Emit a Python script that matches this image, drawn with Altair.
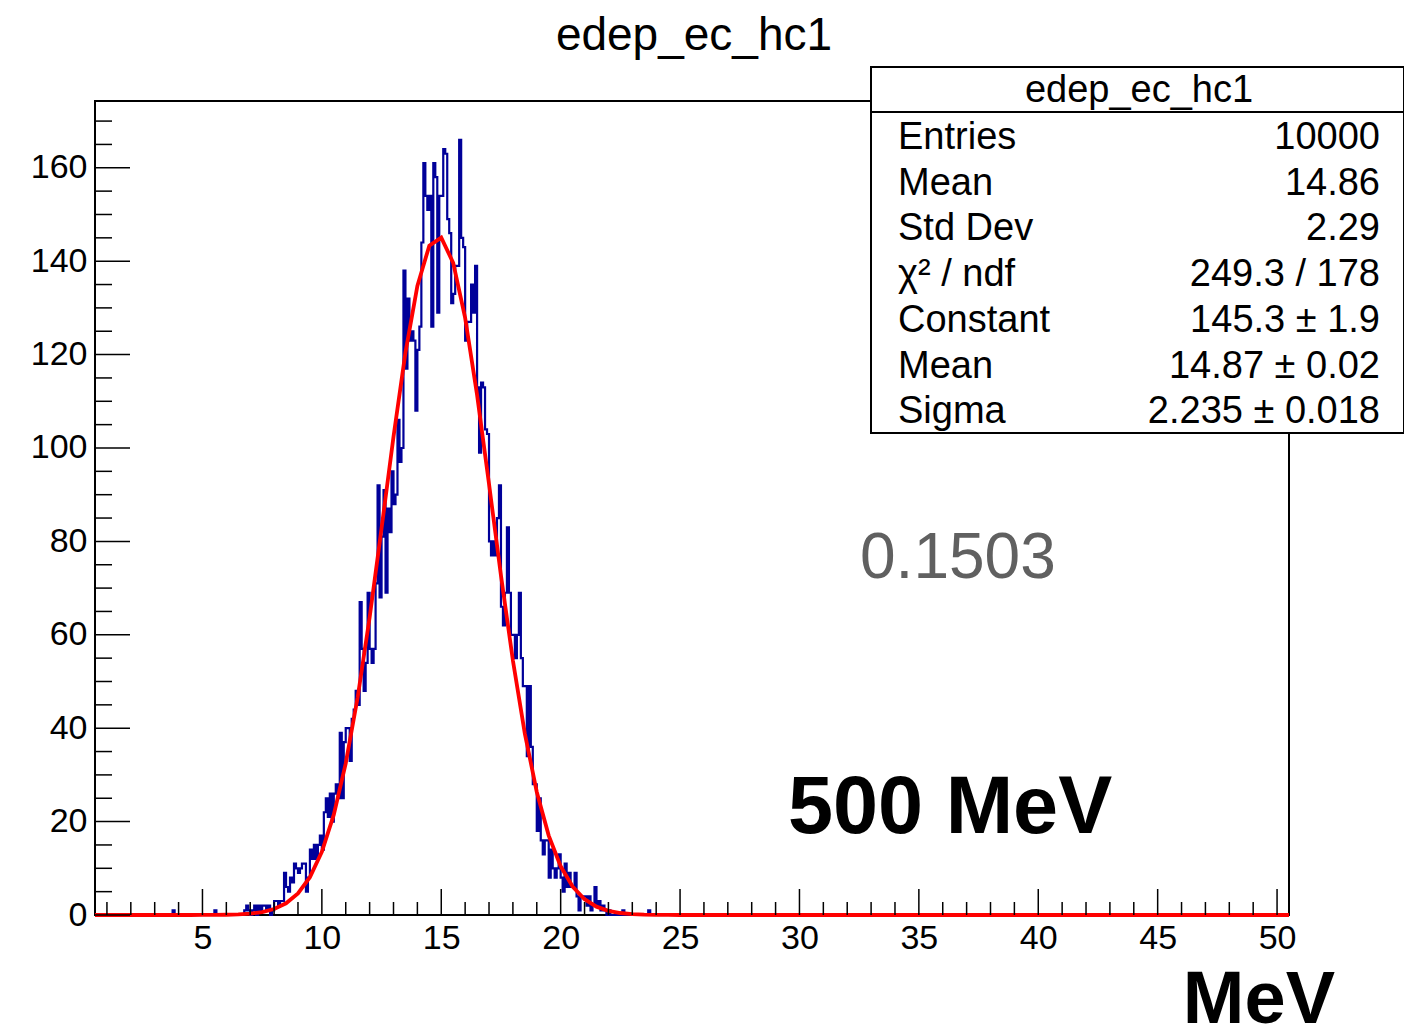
import altair as alt
import pandas as pd
import numpy as np

# ---------------- data ----------------
X_MIN, X_MAX, N_BINS = 0.5, 50.5, 600
Y_MAX = 174.3

# isolated entries far in the left tail (bin index -> count)
isolated_bins = [39, 60]
isolated_counts = [1, 1]

# contiguous counts starting at bin index FIRST_BIN
FIRST_BIN = 75
counts = [
    1, 2, 1, 0, 1,   2, 0, 2, 1, 2,   2, 1, 2, 0, 1,   3, 3, 2, 3, 3,
    9, 6, 5, 8, 7,   11, 10, 9, 10, 11,   11, 5, 8, 14, 12,   15, 12, 15, 17, 14,
    22, 25, 21, 26, 20,   26, 28, 25, 39, 25,   37, 40, 40, 33, 42,
    44, 48, 45, 67, 57,   48, 54, 69, 57, 54,   57, 71, 92, 68, 81,
    91, 69, 87, 82, 95,   88, 90, 106, 97, 100,   138, 117, 132, 123, 125,
    123, 108, 121, 126, 144,   161, 154, 151, 154, 126,   161, 158, 129, 154, 154,
    164, 163, 149, 146, 131,   133, 139, 139, 166, 145,   143, 123, 127, 127, 135,
    129, 139, 113, 99, 114,   113, 104, 103, 80, 77,   80, 77, 85, 92, 66,
    62, 69, 83, 69, 60,   60, 55, 60, 69, 55,   49, 49, 34, 49, 36,
    28, 28, 18, 25, 16,   13, 16, 16, 8, 14,   10, 8, 10, 13, 8,
    5, 11, 6, 9, 6,   6, 9, 4, 1, 4,   4, 4, 2, 4, 1,
    2, 6, 2, 3, 1,   2, 1, 0, 1, 0,   0, 0, 0, 0, 0,   1, 0, 0, 0, 0,
    0, 0, 0, 0, 0,   0, 0, 0, 1,
]

# fit parameters (from the stats box)
fit_const, fit_mean, fit_sigma = 145.3, 14.87, 2.235

stat_title = "edep_ec_hc1"
stat_labels = ["Entries", "Mean", "Std Dev", "χ² / ndf", "Constant", "Mean", "Sigma"]
stat_values = ["10000", "14.86", "2.29", "249.3 / 178", "145.3 ± 1.9", "14.87 ± 0.02", "2.235 ± 0.018"]

x_major = [5, 10, 15, 20, 25, 30, 35, 40, 45, 50]
x_minor = [v for v in range(1, 51) if v % 5 != 0]
y_major = [0, 20, 40, 60, 80, 100, 120, 140, 160]
y_minor = [v for v in range(5, 175, 5) if v % 20 != 0]

# ---------------- tables ----------------
full = np.zeros(N_BINS)
for b, c in zip(isolated_bins, isolated_counts):
    full[b] = c
full[FIRST_BIN:FIRST_BIN + len(counts)] = counts
w = (X_MAX - X_MIN) / N_BINS
edges = X_MIN + w * np.arange(N_BINS + 1)
hist_df = pd.DataFrame({"x": edges, "y": np.append(full, full[-1])})

fx = np.linspace(X_MIN, X_MAX, 101)
fit_df = pd.DataFrame({"x": fx, "y": fit_const * np.exp(-0.5 * ((fx - fit_mean) / fit_sigma) ** 2)})

W, H = 1194, 814
FONT = "Liberation Sans"
xs = alt.Scale(domain=[X_MIN, X_MAX], nice=False, zero=False)
ys = alt.Scale(domain=[0, Y_MAX], nice=False, zero=True)

hist = alt.Chart(hist_df).mark_line(interpolate="step-after", color="#000099", strokeWidth=2.2).encode(
    x=alt.X("x:Q", scale=xs, axis=alt.Axis(values=x_major, ticks=False, domain=False, grid=False,
                                           labelFont=FONT, labelFontSize=34, labelColor="black",
                                           labelPadding=6, title=None, format="d")),
    y=alt.Y("y:Q", scale=ys, axis=alt.Axis(values=y_major, ticks=False, domain=False, grid=False,
                                           labelFont=FONT, labelFontSize=34, labelColor="black",
                                           labelPadding=8, title=None, format="d")),
)

fit = alt.Chart(fit_df).mark_line(color="#ff0000", strokeWidth=3.8).encode(
    x=alt.X("x:Q", scale=xs), y=alt.Y("y:Q", scale=ys)
)

def xticks(vals, length):
    return alt.Chart(pd.DataFrame({"v": vals})).mark_rule(color="black", strokeWidth=1.5).encode(
        x=alt.X("v:Q", scale=xs), y=alt.value(H), y2=alt.value(H - length))

def yticks(vals, length):
    return alt.Chart(pd.DataFrame({"v": vals})).mark_rule(color="black", strokeWidth=1.5).encode(
        y=alt.Y("v:Q", scale=ys), x=alt.value(0), x2=alt.value(length))

def text(t, x, y, size, align="left", weight="normal", color="black", baseline="alphabetic"):
    return alt.Chart(pd.DataFrame({"t": [t]})).mark_text(
        font=FONT, fontSize=size, align=align, baseline=baseline, fontWeight=weight, color=color
    ).encode(x=alt.value(x), y=alt.value(y), text="t:N")

layers = [hist, fit,
          xticks(x_major, 26), xticks(x_minor, 13),
          yticks(y_major, 35), yticks(y_minor, 17)]

# title
layers.append(text("edep_ec_hc1", 599, -51, 46, align="center"))

# stats box
box_x0, box_x1, box_y0, box_y1 = 776, 1309, -34, 332
box = alt.Chart(pd.DataFrame({"a": [0]})).mark_rect(fill="white", stroke="black", strokeWidth=2).encode(
    x=alt.value(box_x0), x2=alt.value(box_x1), y=alt.value(box_y0), y2=alt.value(box_y1))
sep = alt.Chart(pd.DataFrame({"a": [0]})).mark_rule(color="black", strokeWidth=2).encode(
    x=alt.value(box_x0), x2=alt.value(box_x1), y=alt.value(11))
layers += [box, sep]
layers.append(text(stat_title, 1044, 1, 38, align="center"))
for i, (lab, val) in enumerate(zip(stat_labels, stat_values)):
    yb = 48 + i * 45.7
    layers.append(text(lab, 803, yb, 38))
    layers.append(text(val, 1285, yb, 38, align="right"))

# annotations
layers.append(text("0.1503", 765, 477, 64, color="#606060"))
layers.append(text("500 MeV", 693, 732, 81, weight="bold"))
layers.append(text("MeV", 1240, 922, 74, align="right", weight="bold"))

chart = alt.layer(*layers).properties(
    width=W, height=H,
    autosize=alt.AutoSizeParams(type="none"),
    padding={"left": 95, "top": 101, "right": 115, "bottom": 119},
    background="white",
).configure_view(stroke="black", strokeWidth=2)

chart.save("out.html", embed_options={"renderer": "svg", "actions": False})
